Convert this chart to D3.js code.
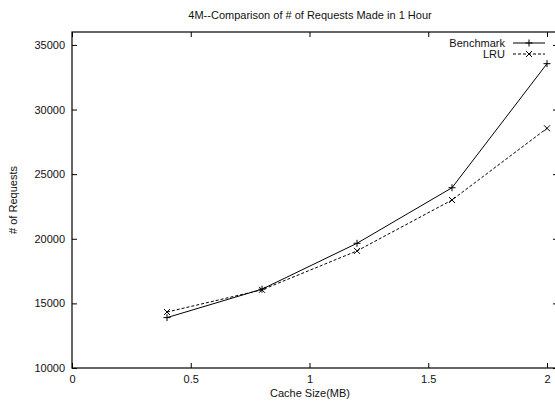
<!DOCTYPE html>
<html><head><meta charset="utf-8">
<script src="https://cdn.jsdelivr.net/npm/d3@7"></script>
<style>
html,body{margin:0;padding:0;background:#fff;overflow:hidden;}
text{font-family:"Liberation Sans",Arial,Helvetica,sans-serif;fill:#111;}
</style></head>
<body><svg id="c" width="555" height="405"></svg>
<script>
const cacheSizes = [0.4, 0.8, 1.2, 1.6, 2.0];
const benchmark = [13900, 16100, 19650, 23950, 33550];
const lru = [14330, 16050, 19060, 23000, 28550];
const xTicks = [0, 0.5, 1, 1.5, 2];
const yTicks = [10000, 15000, 20000, 25000, 30000, 35000];
const seriesNames = ["Benchmark", "LRU"];
const title = "4M--Comparison of # of Requests Made in 1 Hour";
const xLabel = "Cache Size(MB)";
const yLabel = "# of Requests";

const svg = d3.select("#c");
const L = 72, R = 558, T = 32, B = 368;
const x = d3.scaleLinear().domain([0, 2]).range([L, 547]);
const y = d3.scaleLinear().domain([10000, 36000]).range([B, T]);

// frame
svg.append("rect").attr("x", L).attr("y", T).attr("width", R - L).attr("height", B - T)
  .attr("fill", "none").attr("stroke", "#000").attr("stroke-width", 1.2);

const fs = 11;
// x axis
const xa = svg.append("g").attr("transform", `translate(0,${B})`)
  .call(d3.axisBottom(x).tickValues(xTicks).tickSize(-5).tickPadding(7).tickFormat(d3.format("")));
xa.select(".domain").remove();
xa.selectAll("text").attr("font-size", fs).attr("font-family", "Liberation Sans, Arial, sans-serif").attr("fill", "#111");
xa.selectAll("line").attr("stroke", "#000");
// top mirror ticks
const xt = svg.append("g").attr("transform", `translate(0,${T})`)
  .call(d3.axisTop(x).tickValues(xTicks).tickSize(-5).tickFormat(""));
xt.select(".domain").remove();
xt.selectAll("line").attr("stroke", "#000");

// y axis
const ya = svg.append("g").attr("transform", `translate(${L},0)`)
  .call(d3.axisLeft(y).tickValues(yTicks).tickSize(-5).tickPadding(7).tickFormat(d3.format("d")));
ya.select(".domain").remove();
ya.selectAll("text").attr("font-size", fs).attr("font-family", "Liberation Sans, Arial, sans-serif").attr("fill", "#111");
ya.selectAll("line").attr("stroke", "#000");
const yr = svg.append("g").attr("transform", `translate(${R},0)`)
  .call(d3.axisRight(y).tickValues(yTicks).tickSize(-5).tickFormat(""));
yr.select(".domain").remove();
yr.selectAll("line").attr("stroke", "#000");

// labels
svg.append("text").attr("x", 310).attr("y", 19).attr("text-anchor", "middle").attr("font-size", fs).text(title);
svg.append("text").attr("x", 310).attr("y", 397).attr("text-anchor", "middle").attr("font-size", fs).text(xLabel);
svg.append("text").attr("transform", "translate(17,200) rotate(-90)").attr("text-anchor", "middle").attr("font-size", fs).text(yLabel);

function plus(g, cx, cy, s) {
  g.append("path").attr("d", `M${cx - s},${cy}H${cx + s}M${cx},${cy - s}V${cy + s}`).attr("stroke", "#000").attr("stroke-width", 1);
}
function cross(g, cx, cy, s) {
  g.append("path").attr("d", `M${cx - s},${cy - s}L${cx + s},${cy + s}M${cx - s},${cy + s}L${cx + s},${cy - s}`).attr("stroke", "#000").attr("stroke-width", 1);
}

const line = d3.line().x((d, i) => x(cacheSizes[i])).y(d => y(d));
const g = svg.append("g");
g.append("path").datum(benchmark).attr("d", line).attr("fill", "none").attr("stroke", "#000").attr("stroke-width", 1);
g.append("path").datum(lru).attr("d", line).attr("fill", "none").attr("stroke", "#000").attr("stroke-width", 1).attr("stroke-dasharray", "3,2");
benchmark.forEach((v, i) => plus(g, x(cacheSizes[i]), y(v), 3.5));
lru.forEach((v, i) => cross(g, x(cacheSizes[i]), y(v), 3));

// legend
const key = svg.append("g");
const rows = [43, 54];
seriesNames.forEach((n, i) => {
  key.append("text").attr("x", 505).attr("y", rows[i] + 4).attr("text-anchor", "end").attr("font-size", fs).text(n);
  const ln = key.append("line").attr("x1", 513).attr("x2", 545).attr("y1", rows[i]).attr("y2", rows[i]).attr("stroke", "#000").attr("stroke-width", 1);
  if (i === 1) { ln.attr("stroke-dasharray", "3,2"); cross(key, 529, rows[i], 3); }
  else plus(key, 529, rows[i], 3.5);
});
</script></body></html>
